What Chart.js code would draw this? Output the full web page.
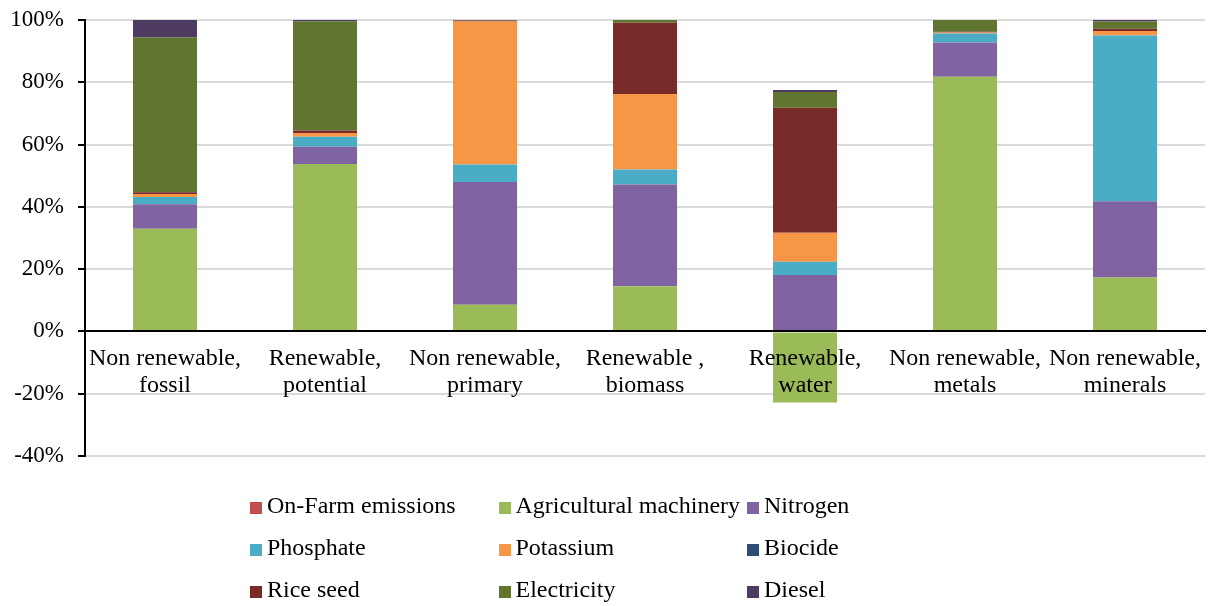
<!DOCTYPE html>
<html>
<head>
<meta charset="utf-8">
<script src="https://cdn.jsdelivr.net/npm/chart.js@4/dist/chart.umd.min.js"></script>
<style>
  html, body { margin: 0; padding: 0; background: #ffffff; }
  #wrap { position: relative; width: 1216px; height: 606px; overflow: hidden; }
  #chart { position: absolute; left: 0; top: 0; }
  .lg-item { position: absolute; height: 28px; white-space: nowrap;
             font-family: "Liberation Serif", "Times New Roman", serif; font-size: 24px;
             line-height: 28px; color: #000; }
  .lg-box { position: absolute; left: 0; top: 11px; width: 12px; height: 12px; }
  .lg-text { position: absolute; left: 17px; top: 0; }
</style>
</head>
<body>
<div id="wrap">
  <canvas id="chart" width="1216" height="606"></canvas>
  <div id="legend"></div>
</div>
<script>
// Resource categories (two-line axis labels)
const categories = [
  ['Non renewable,', 'fossil'],
  ['Renewable,', 'potential'],
  ['Non renewable,', 'primary'],
  ['Renewable ,', 'biomass'],
  ['Renewable,', 'water'],
  ['Non renewable,', 'metals'],
  ['Non renewable,', 'minerals']
];

// Contribution of each input, in percent
const onFarm      = [0,    0,    0,    0,    0,     0,    0];
const machinery   = [33.0, 53.8, 8.6,  14.5, -22.8, 81.8, 17.3];
const nitrogen    = [7.8,  5.5,  39.4, 32.7, 18.1,  11.0, 24.5];
const phosphate   = [2.4,  3.2,  5.6,  4.8,  4.3,   2.9,  53.2];
const potassium   = [0.9,  1.2,  45.9, 24.2, 9.3,   0.3,  1.5];
const biocide     = [0,    0,    0,    0,    0,     0,    0];
const riceSeed    = [0.6,  0.8,  0.3,  22.9, 40.1,  0.2,  0.7];
const electricity = [49.7, 35.1, 0.2,  0.9,  5.1,   3.8,  2.3];
const diesel      = [5.6,  0.4,  0,    0,    0.6,   0,    0.5];

// Value axis ticks
const yTicks = [-40, -20, 0, 20, 40, 60, 80, 100];

const seriesNames = ['On-Farm emissions', 'Agricultural machinery', 'Nitrogen',
                     'Phosphate', 'Potassium', 'Biocide',
                     'Rice seed', 'Electricity', 'Diesel'];
const seriesValues = [onFarm, machinery, nitrogen, phosphate, potassium,
                      biocide, riceSeed, electricity, diesel];
const seriesColors = ['#C0504D', '#9BBB59', '#8064A2', '#4BACC6', '#F79646',
                      '#2C4D75', '#772C2A', '#5F7530', '#4D3B62'];

const serif = '"Liberation Serif", "Times New Roman", serif';

const chart = new Chart(document.getElementById('chart'), {
  type: 'bar',
  data: {
    labels: categories,
    datasets: seriesNames.map((name, i) => ({
      label: name,
      data: seriesValues[i],
      backgroundColor: seriesColors[i],
      borderWidth: 0,
      categoryPercentage: 0.4,
      barPercentage: 1.0
    }))
  },
  options: {
    responsive: false,
    animation: false,
    devicePixelRatio: 1,
    layout: { padding: { left: 0, top: 20, right: 11, bottom: 150 } },
    plugins: {
      legend: { display: false },
      tooltip: { enabled: false }
    },
    scales: {
      x: {
        stacked: true,
        position: { y: 0 },
        grid: { display: false, drawTicks: false },
        border: { display: true, color: '#000000', width: 2, z: 1 },
        ticks: {
          z: 1,
          autoSkip: false,
          maxRotation: 0,
          minRotation: 0,
          padding: 13,
          color: '#000000',
          font: { family: serif, size: 24, lineHeight: 1.15 }
        }
      },
      y: {
        stacked: true,
        min: yTicks[0],
        max: yTicks[yTicks.length - 1],
        afterFit: (scale) => {
          scale.width = 85;
          scale.paddingTop = 0;
          scale.paddingBottom = 0;
        },
        afterBuildTicks: (scale) => { scale.ticks = yTicks.map(v => ({ value: v })); },
        grid: {
          color: '#dadada',
          lineWidth: 2,
          tickColor: '#000000',
          tickLength: 7,
          tickWidth: 2
        },
        border: { display: true, color: '#000000', width: 2 },
        ticks: {
          padding: 14,
          color: '#000000',
          font: { family: serif, size: 23 },
          callback: (v) => v + '%'
        }
      }
    }
  }
});

// Legend laid out as a 3-column grid below the plot
const legend = document.getElementById('legend');
chart.data.datasets.forEach((ds, i) => {
  const col = i % 3, row = Math.floor(i / 3);
  const item = document.createElement('div');
  item.className = 'lg-item';
  item.style.left = (250 + col * 248.5) + 'px';
  item.style.top = (490.5 + row * 42) + 'px';
  const box = document.createElement('span');
  box.className = 'lg-box';
  box.style.background = ds.backgroundColor;
  const txt = document.createElement('span');
  txt.className = 'lg-text';
  txt.textContent = ds.label;
  item.appendChild(box);
  item.appendChild(txt);
  legend.appendChild(item);
});
</script>
</body>
</html>
